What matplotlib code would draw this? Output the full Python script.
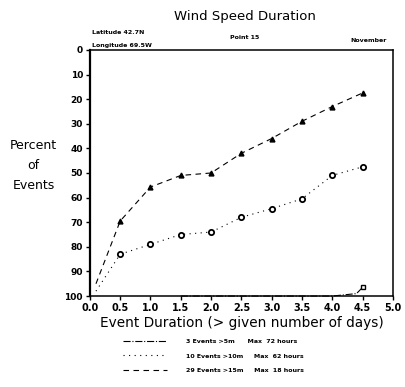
import matplotlib
matplotlib.use("Agg")
import matplotlib.pyplot as plt

# values (percent of events, y axis inverted)
days = [0.5, 1.0, 1.5, 2.0, 2.5, 3.0, 3.5, 4.0, 4.5]
ev29_x = [0.1] + days
ev29 = [95, 69.5, 55.7, 51, 50, 42, 36, 29, 23, 17.5]
ev10_x = [0.1] + days
ev10 = [98, 83, 79, 75, 74, 68, 64.5, 60.5, 51, 47.5]
ev3_x = [1.5, 2.0, 2.5, 3.0, 3.5, 4.0, 4.4, 4.5]
ev3 = [100, 100, 100, 100, 100, 100, 99, 96.5]

xticks = [0.0, 0.5, 1.0, 1.5, 2.0, 2.5, 3.0, 3.5, 4.0, 4.5, 5.0]
yticks = [0, 10, 20, 30, 40, 50, 60, 70, 80, 90, 100]

fig = plt.figure(figsize=(4.05, 3.87), dpi=100)
ax = fig.add_axes([0.222, 0.235, 0.748, 0.636])

l3, = ax.plot(ev3_x, ev3, color='black', lw=0.8, ls='-.', clip_on=False)
ax.plot(ev3_x[-1:], ev3[-1:], ls='none', marker='s', ms=3.5, mfc='white',
        mec='black', clip_on=False)
l10, = ax.plot(ev10_x, ev10, color='black', lw=0.8, ls=(0, (1, 4)))
ax.plot(days, ev10[1:], ls='none', marker='o', ms=3.8, mfc='white',
        mec='black', mew=1.3)
l29, = ax.plot(ev29_x, ev29, color='black', lw=0.8, ls=(0, (5, 4)))
ax.plot(days, ev29[1:], ls='none', marker='^', ms=3.5, color='black')

ax.set_xlim(0, 5.0)
ax.set_ylim(100, 0)
ax.set_xticks(xticks)
ax.set_xticklabels(['%.1f' % v for v in xticks], fontsize=7, fontweight='bold')
ax.set_yticks(yticks)
ax.set_yticklabels([str(v) for v in yticks], fontsize=6.5, fontweight='bold')
ax.tick_params(direction='out', length=3, width=1, pad=2)
for s in ax.spines.values():
    s.set_linewidth(1.1)
ax.spines['left'].set_linewidth(1.6)

ax.set_xlabel('Event Duration (> given number of days)', fontsize=9.8, labelpad=2)
fig.text(0.083, 0.625, 'Percent', fontsize=9, ha='center', va='center')
fig.text(0.083, 0.573, 'of', fontsize=9, ha='center', va='center')
fig.text(0.083, 0.52, 'Events', fontsize=9, ha='center', va='center')

fig.text(0.605, 0.958, 'Wind Speed Duration', fontsize=9.5, ha='center', va='center')
fig.text(0.228, 0.915, 'Latitude 42.7N', fontsize=4.5, fontweight='bold', va='center')
fig.text(0.228, 0.883, 'Longitude 69.5W', fontsize=4.5, fontweight='bold', va='center')
fig.text(0.605, 0.902, 'Point 15', fontsize=4.5, fontweight='bold', ha='center', va='center')
fig.text(0.955, 0.896, 'November', fontsize=4.5, fontweight='bold', ha='right', va='center')

labels = ['3 Events >5m      Max  72 hours',
          '10 Events >10m     Max  62 hours',
          '29 Events >15m     Max  18 hours']
fig.legend([l3, l10, l29], labels, loc='upper left',
           bbox_to_anchor=(0.29, 0.14), frameon=False,
           prop={'size': 4.5, 'weight': 'bold'}, handlelength=7,
           labelspacing=1.5, handletextpad=3)

fig.savefig('out.png', dpi=100)
